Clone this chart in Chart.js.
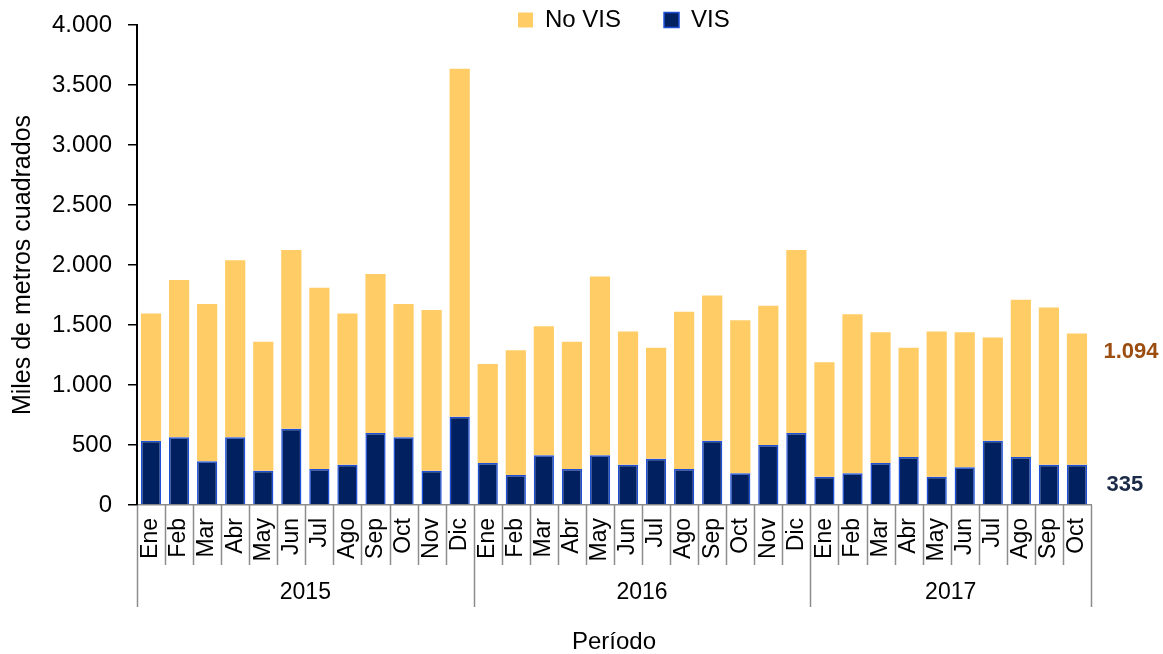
<!DOCTYPE html>
<html><head><meta charset="utf-8">
<script src="https://cdn.jsdelivr.net/npm/chart.js@4"></script>
<style>html,body{margin:0;padding:0;background:#fff;} canvas{display:block;}</style>
</head><body>
<canvas id="c" width="1163" height="654"></canvas>
<script>
const months = ['Ene','Feb','Mar','Abr','May','Jun','Jul','Ago','Sep','Oct','Nov','Dic',
                'Ene','Feb','Mar','Abr','May','Jun','Jul','Ago','Sep','Oct','Nov','Dic',
                'Ene','Feb','Mar','Abr','May','Jun','Jul','Ago','Sep','Oct'];
const years = ['2015','2016','2017'];
const monthsPerYear = [12, 12, 10];
const visValues = [535, 565, 365, 565, 285, 635, 300, 335, 600, 565, 285, 735,
                   350, 250, 415, 300, 415, 335, 385, 300, 535, 265, 500, 600,
                   235, 265, 350, 400, 235, 315, 535, 400, 335, 335];
const noVisValues = [1060, 1310, 1310, 1475, 1075, 1490, 1510, 1260, 1325, 1110, 1340, 2900,
                     825, 1040, 1075, 1060, 1490, 1110, 925, 1310, 1210, 1275, 1160, 1525,
                     955, 1325, 1090, 910, 1210, 1125, 860, 1310, 1310, 1094];
const yMin = 0, yMax = 4000, yStep = 500;
const seriesNames = ['VIS', 'No VIS'];

const FONT = '"Liberation Sans", Arial, sans-serif';
const fmt = v => String(v).replace(/\B(?=(\d{3})+(?!\d))/g, '.');

const extrasPlugin = {
  id: 'extras',
  afterLayout(chart) {
    const lg = chart.legend;
    lg.left = 475; lg.right = 1163;
    lg.top = -35; lg.bottom = 60;
  },
  afterDraw(chart) {
    const ctx = chart.ctx;
    const xs = chart.scales.x, ys = chart.scales.y;
    const base = chart.chartArea.bottom;
    ctx.save();
    ctx.strokeStyle = '#8c8c8c';
    ctx.lineWidth = 1.5;
    const groupEdges = [0];
    monthsPerYear.forEach(n => groupEdges.push(groupEdges[groupEdges.length - 1] + n));
    for (let i = 0; i <= months.length; i++) {
      const px = Math.round(xs.getPixelForValue(i - 0.5)) + 0.5;
      const long = groupEdges.includes(i);
      ctx.beginPath();
      ctx.moveTo(px, base);
      ctx.lineTo(px, base + (long ? 102 : 60));
      ctx.stroke();
    }
    ctx.fillStyle = '#000';
    ctx.font = '23px ' + FONT;
    ctx.textAlign = 'center';
    ctx.textBaseline = 'middle';
    years.forEach((y, k) => {
      const a = xs.getPixelForValue(groupEdges[k] - 0.5);
      const b = xs.getPixelForValue(groupEdges[k + 1] - 0.5);
      ctx.fillText(y, (a + b) / 2, base + 88);
    });
    const li = months.length - 1;
    const lx = xs.getPixelForValue(li);
    const v = visValues[li], nv = noVisValues[li];
    ctx.font = 'bold 22px ' + FONT;
    ctx.fillStyle = '#9C4D10';
    ctx.fillText(fmt(nv), lx + 54, ys.getPixelForValue((v + nv) * 0.89));
    ctx.fillStyle = '#1B2A47';
    ctx.fillText(fmt(v), lx + 48, ys.getPixelForValue(v / 2));
    ctx.restore();
  }
};

new Chart(document.getElementById('c'), {
  type: 'bar',
  data: {
    labels: months,
    datasets: [
      { label: seriesNames[0], data: visValues, backgroundColor: '#002060',
        borderColor: '#1F4FD6', borderWidth: 1.5, barPercentage: 0.72, categoryPercentage: 1 },
      { label: seriesNames[1], data: noVisValues, backgroundColor: '#FFCC66',
        borderColor: '#FFCC66', borderWidth: 0, barPercentage: 0.72, categoryPercentage: 1 }
    ]
  },
  options: {
    responsive: false,
    animation: false,
    devicePixelRatio: 1,
    layout: { padding: { left: 0, right: 72, top: 24, bottom: 0 } },
    plugins: {
      tooltip: { enabled: false },
      legend: {
        position: 'top',
        align: 'start',
        reverse: true,
        maxHeight: 1,
        labels: {
          font: { family: FONT, size: 24 },
          color: '#000',
          boxWidth: 15,
          boxHeight: 15,
          padding: 43
        }
      }
    },
    scales: {
      x: {
        stacked: true,
        grid: { display: false, drawTicks: false },
        border: { display: true, color: '#8c8c8c', width: 1.5 },
        ticks: { font: { family: FONT, size: 23 }, color: '#000', minRotation: 90, maxRotation: 90, padding: 13, autoSkip: false },
        title: { display: true, text: 'Período', font: { family: FONT, size: 24, lineHeight: 1 }, color: '#000', padding: { top: 0, bottom: 0 } },
        afterFit(s) { s.height = 149; }
      },
      y: {
        stacked: true,
        min: yMin, max: yMax,
        grid: { display: true, drawOnChartArea: false, drawTicks: true, tickLength: 9, color: '#000', lineWidth: 1.5 },
        border: { display: true, color: '#000', width: 2 },
        ticks: { stepSize: yStep, font: { family: FONT, size: 24 }, color: '#000', padding: 16, callback: v => fmt(v) },
        title: { display: true, text: 'Miles de metros cuadrados', font: { family: FONT, size: 25, lineHeight: 1 }, color: '#000', padding: { top: 11, bottom: 0 } },
        afterFit(s) { s.width = 137; s.paddingTop = 0; s.paddingBottom = 0; }
      }
    }
  },
  plugins: [extrasPlugin]
});
</script>
</body></html>
